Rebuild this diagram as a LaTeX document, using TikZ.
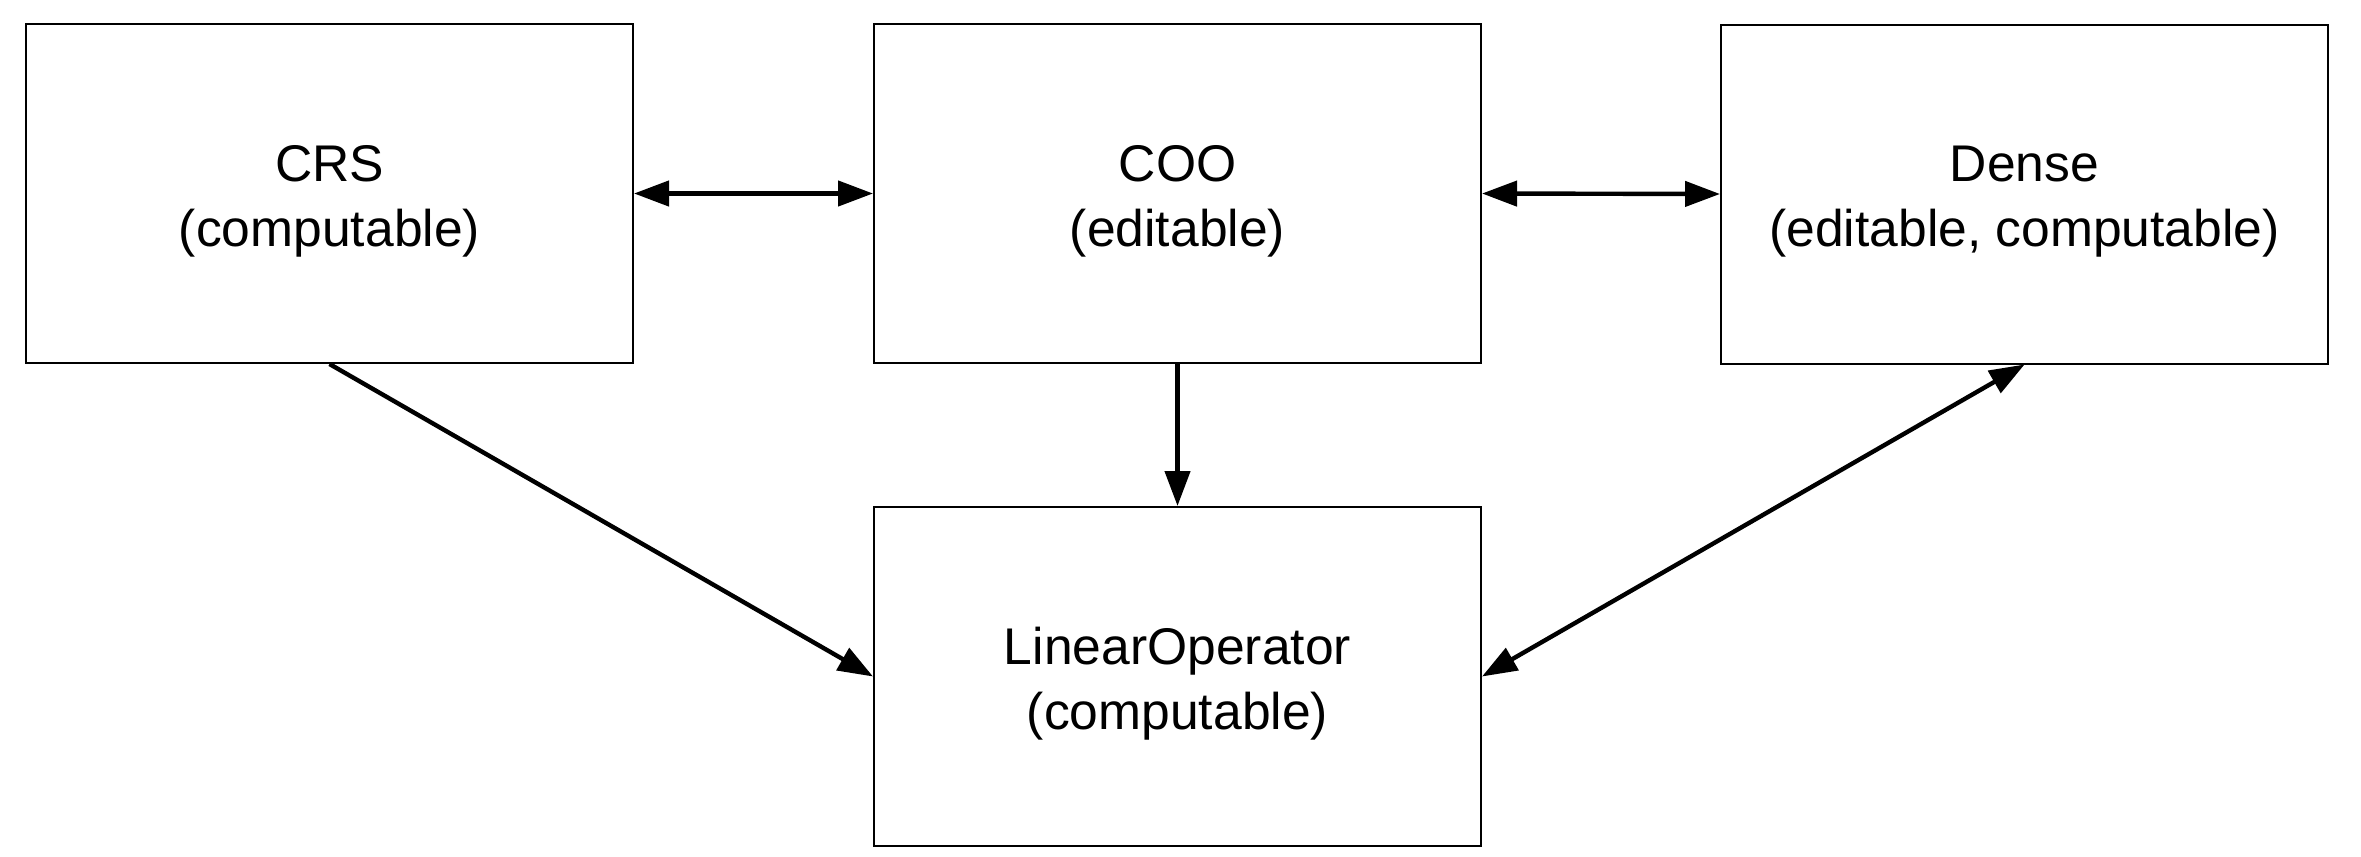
\documentclass[tikz,border=0pt]{standalone}
\usepackage{fontspec}
\setmainfont{Liberation Sans}
\usetikzlibrary{arrows.meta}
\newcommand{\boxlbl}[2]{\raisebox{0pt}[\dimexpr\height+3.5pt\relax][\depth]{\begin{tabular}{@{}c@{}}#1\\#2\end{tabular}}}
\begin{document}
\begin{tikzpicture}[x=0.25pt,y=-0.25pt,
  box/.style={draw=black, line width=0.5pt, rectangle, inner sep=0pt,
    minimum width=151.75pt, minimum height=84.75pt, align=center,
    font=\fontsize{12.9pt}{16.25pt}\selectfont},
  conn/.style={draw=black, line width=1.1pt, -{Triangle[length=8.75pt,width=6.25pt]}},
  biconn/.style={draw=black, line width=1.1pt, {Triangle[length=8.75pt,width=6.25pt]}-{Triangle[length=8.75pt,width=6.25pt]}}]
\useasboundingbox[fill=white] (0,0) rectangle (2361,856);
\node[box] (crs) at (329.5,193.5) {\boxlbl{CRS}{(computable)}};
\node[box] (coo) at (1177.5,193.5) {\boxlbl{COO}{(editable)}};
\node[box] (dense) at (2024.5,194) {\boxlbl{Dense}{(editable, computable)}};
\node[box] (lo) at (1177.5,676.5) {\boxlbl{LinearOperator}{(computable)}};
\draw[biconn] (crs.east) -- (coo.west);
\draw[biconn] (coo.east) -- (dense.west);
\draw[conn] (coo.south) -- (lo.north);
\draw[conn] (crs.south) -- (lo.west);
\draw[biconn] (lo.east) -- (dense.south);
\end{tikzpicture}
\end{document}
